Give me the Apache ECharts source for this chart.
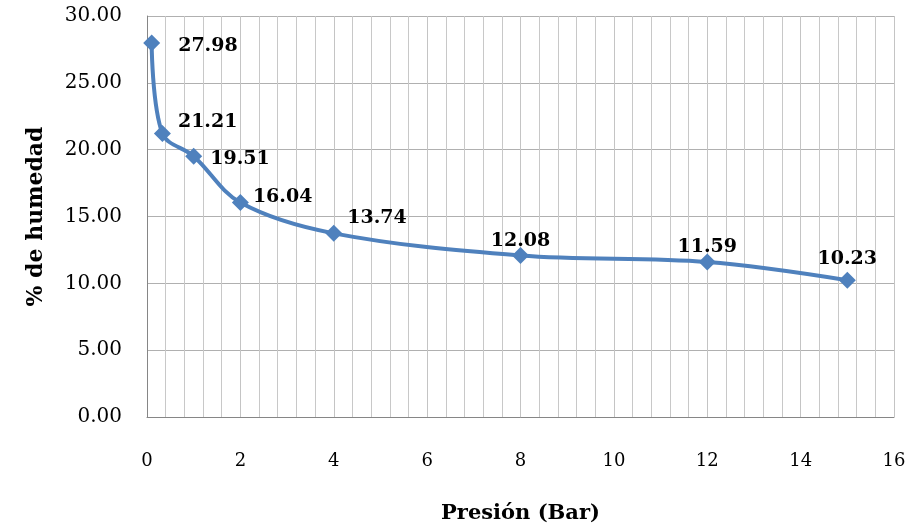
<!DOCTYPE html>
<html>
<head>
<meta charset="utf-8">
<script src="https://cdn.jsdelivr.net/npm/echarts@6/dist/echarts.min.js"></script>
<style>
  html, body { margin: 0; padding: 0; background: #fff; }
  #chart { width: 910px; height: 529px; }
</style>
</head>
<body>
<div id="chart"></div>
<script>
// Presión (bar) vs % de humedad
const presion = [0.1, 0.33, 1, 2, 4, 8, 12, 15];
const humedad = [27.98, 21.21, 19.51, 16.04, 13.74, 12.08, 11.59, 10.23];
const yTicks = [0, 5, 10, 15, 20, 25, 30];
const xTicks = [0, 2, 4, 6, 8, 10, 12, 14, 16];

const serif = '"DejaVu Serif", "Liberation Serif", serif';

// label placement per point (offsets in px)
const labelOffsets = [[13, 3], [2, -11], [3, 3], [-1, -6], [0, -15], [0, 9], [0, 8], [0, 2]];
const labelPos = ['right', 'right', 'right', 'right', 'right', 'top', 'top', 'top'];

const chart = echarts.init(document.getElementById('chart'));
chart.setOption({
  animation: false,
  grid: { left: 147, right: 16, top: 16, bottom: 111, containLabel: false },
  xAxis: {
    type: 'value',
    min: xTicks[0],
    max: xTicks[xTicks.length - 1],
    interval: 2,
    name: 'Presión (Bar)',
    nameLocation: 'middle',
    nameGap: 86,
    nameTextStyle: { fontFamily: serif, fontWeight: 'bold', fontSize: 21, color: '#000' },
    axisLine: { show: true, lineStyle: { color: '#868686', width: 1 } },
    axisTick: { show: false },
    axisLabel: { fontFamily: serif, fontSize: 18, color: '#000', margin: 35 },
    splitLine: { show: true, lineStyle: { color: '#c4c4c4', width: 1 } },
    minorTick: { show: false, splitNumber: 5 },
    minorSplitLine: { show: true, lineStyle: { color: '#c8c8c8', width: 1 } }
  },
  yAxis: {
    type: 'value',
    min: yTicks[0],
    max: yTicks[yTicks.length - 1],
    interval: 5,
    name: '% de humedad',
    nameLocation: 'middle',
    nameGap: 100,
    nameRotate: 90,
    nameTextStyle: { fontFamily: serif, fontWeight: 'bold', fontSize: 22, color: '#000' },
    axisLine: { show: true, lineStyle: { color: '#868686', width: 1 } },
    axisTick: { show: false },
    axisLabel: {
      fontFamily: serif, fontSize: 20, color: '#000', margin: 25,
      formatter: v => v.toFixed(2)
    },
    splitLine: { show: true, lineStyle: { color: '#b0b0b0', width: 1 } }
  },
  series: [{
    type: 'line',
    smooth: 0.35,
    data: presion.map((x, i) => ({
      value: [x, humedad[i]],
      label: { position: labelPos[i], offset: labelOffsets[i] }
    })),
    symbol: 'diamond',
    symbolSize: 17,
    lineStyle: { color: '#4F81BD', width: 4 },
    itemStyle: { color: '#4F81BD' },
    label: {
      show: true,
      fontFamily: serif,
      fontWeight: 'bold',
      fontSize: 19,
      color: '#000',
      formatter: p => p.value[1].toFixed(2)
    }
  }]
});
</script>
</body>
</html>
